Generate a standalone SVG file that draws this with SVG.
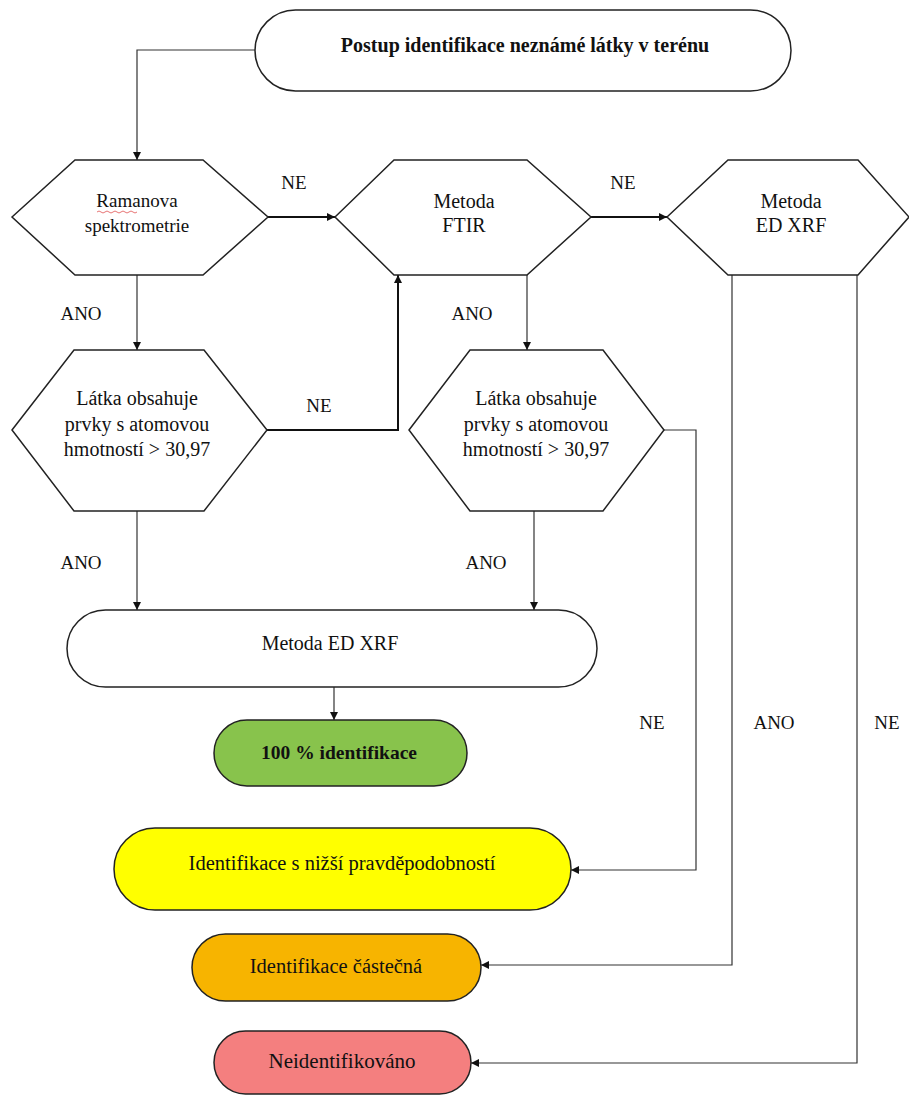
<svg xmlns="http://www.w3.org/2000/svg" width="909" height="1095" viewBox="0 0 909 1095">
<defs>
<marker id="arr" viewBox="0 0 10 10" refX="10" refY="5" markerWidth="8" markerHeight="8" markerUnits="userSpaceOnUse" orient="auto">
<path d="M0,0 L10,5 L0,10 z" fill="#111"/>
</marker>
<style>
.shape{stroke:#222;stroke-width:1.5;fill:#fff}
.t{font-family:"Liberation Serif","Times New Roman",serif;font-size:20px;fill:#111;text-anchor:middle}
.b{font-weight:bold}
.lbl{font-family:"Liberation Serif","Times New Roman",serif;font-size:19px;fill:#111;text-anchor:middle}
.c{fill:none;stroke:#333;stroke-width:1.2}
.c2{fill:none;stroke:#111;stroke-width:2}
</style>
</defs>
<rect width="909" height="1095" fill="#fff"/>

<g id="connectors">
<path class="c" d="M255,50 H137 V160" marker-end="url(#arr)"/>
<path class="c2" d="M268,217 H335" marker-end="url(#arr)"/>
<path class="c2" d="M591,217 H667" marker-end="url(#arr)"/>
<path class="c" d="M137,275 V350" marker-end="url(#arr)"/>
<path class="c" d="M527,275 V350" marker-end="url(#arr)"/>
<path class="c2" d="M267,430 H398 V275" marker-end="url(#arr)"/>
<path class="c" d="M664,430 H696 V870 H571" marker-end="url(#arr)"/>
<path class="c" d="M137,511 V610" marker-end="url(#arr)"/>
<path class="c" d="M534,511 V610" marker-end="url(#arr)"/>
<path class="c" d="M334,687 V720" marker-end="url(#arr)"/>
<path class="c" d="M732,275 V965 H481" marker-end="url(#arr)"/>
<path class="c" d="M857,275 V1063 H471" marker-end="url(#arr)"/>
<text class="lbl" x="294" y="189">NE</text>
<text class="lbl" x="623" y="189">NE</text>
<text class="lbl" x="81" y="320">ANO</text>
<text class="lbl" x="472" y="320">ANO</text>
<text class="lbl" x="319" y="412">NE</text>
<text class="lbl" x="81" y="569">ANO</text>
<text class="lbl" x="486" y="569">ANO</text>
<text class="lbl" x="652" y="729">NE</text>
<text class="lbl" x="774" y="729">ANO</text>
<text class="lbl" x="887" y="729">NE</text>
</g>

<g id="start">
<rect class="shape" x="255" y="10" width="536" height="81" rx="40.5" ry="40.5"/>
<text class="t b" x="525" y="52">Postup identifikace neznámé látky v terénu</text>
</g>

<g id="raman">
<polygon class="shape" points="12,217 75,160 203,160 268,217 203,275 75,275"/>
<text class="t" x="137" y="207" style="font-size:19px">Ramanova</text>
<path d="M97,212 q2,-2 4,0 t4,0 t4,0 t4,0 t4,0 t4,0 t4,0 t4,0 t4,0 t4,0" fill="none" stroke="#e05050" stroke-width="0.8"/>
<text class="t" x="137" y="232" style="font-size:19px">spektrometrie</text>
</g>

<g id="ftir">
<polygon class="shape" points="335,217 394,160 527,160 591,217 527,275 394,275"/>
<text class="t" x="464" y="208">Metoda</text>
<text class="t" x="464" y="232">FTIR</text>
</g>

<g id="edxrf-hex">
<polygon class="shape" points="667,217 728,160 858,160 909,217 858,275 728,275"/>
<text class="t" x="791" y="208">Metoda</text>
<text class="t" x="791" y="232">ED XRF</text>
</g>

<g id="latka-left">
<polygon class="shape" points="12,430 74,350 204,350 267,430 204,511 74,511"/>
<text class="t" x="137" y="405">Látka obsahuje</text>
<text class="t" x="137" y="431">prvky s atomovou</text>
<text class="t" x="137" y="456">hmotností &gt; 30,97</text>
</g>

<g id="latka-right">
<polygon class="shape" points="409,430 470,350 603,350 664,430 603,511 470,511"/>
<text class="t" x="536" y="405">Látka obsahuje</text>
<text class="t" x="536" y="431">prvky s atomovou</text>
<text class="t" x="536" y="456">hmotností &gt; 30,97</text>
</g>

<g id="edxrf-term">
<rect class="shape" x="67" y="610" width="530" height="77" rx="38.5" ry="38.5"/>
<text class="t" x="330" y="650">Metoda ED XRF</text>
</g>

<g id="full-id">
<rect class="shape" x="214" y="720" width="253" height="66" rx="33" ry="33" style="fill:#88c34c"/>
<text class="t b" x="339" y="759" style="font-size:19.5px">100 % identifikace</text>
</g>

<g id="lower-prob">
<rect class="shape" x="114" y="828" width="457" height="82" rx="41" ry="41" style="fill:#ffff00"/>
<text class="t" x="342" y="870" style="font-size:20.5px">Identifikace s nižší pravděpodobností</text>
</g>

<g id="partial">
<rect class="shape" x="192" y="934" width="289" height="67" rx="33.5" ry="33.5" style="fill:#f7b400"/>
<text class="t" x="336" y="973" style="font-size:20.5px">Identifikace částečná</text>
</g>

<g id="none">
<rect class="shape" x="214" y="1031" width="257" height="63" rx="31.5" ry="31.5" style="fill:#f47f7f"/>
<text class="t" x="342" y="1068" style="font-size:21px">Neidentifikováno</text>
</g>
</svg>
